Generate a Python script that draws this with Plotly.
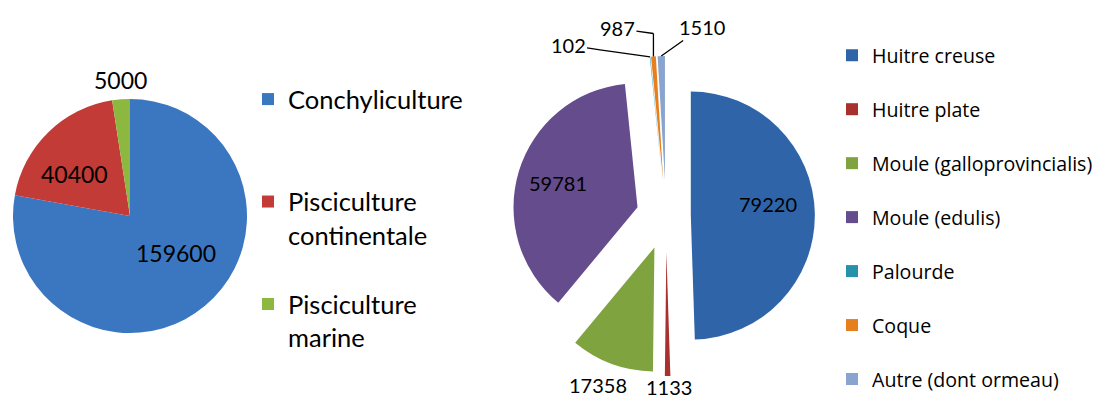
import math
import plotly.graph_objects as go

# ---- data ----
left_categories = ["Conchyliculture", "Pisciculture<br>continentale", "Pisciculture<br>marine"]
left_values = [159600, 40400, 5000]

right_categories = ["Huitre creuse", "Huitre plate", "Moule (galloprovincialis)",
                    "Moule (edulis)", "Palourde", "Coque", "Autre (dont ormeau)"]
right_values = [79220, 1133, 17358, 59781, 102, 987, 1510]

# ---- styles ----
FONT = "Lato"
LEGEND2_FONT = "Open Sans"
W, H = 1105, 393   # the page adds an 8px margin, so the figure fills the 1113x401 window
left_colors = ["#3B77C1", "#C23B37", "#8DB840"]
right_colors = ["#2F65A8", "#A8302D", "#7FA33E", "#654C8C", "#2790AB", "#E6801F", "#89A4CF"]
left_pull = [0, 0, 0]
right_pull = [0.20, 0.29, 0.27, 0.24, 0.29, 0.29, 0.29]

# pie boxes in pixels (left, top, size)
LEFT_BOX = (5, 91, 234)
RIGHT_BOX = (498, 48, 320)

# label placement relative to the outer tip of each slice:
# (dx, dy) text offset; optional elbow (ex, ey) of the leader line; leader line flag
left_label_offsets = {
    0: dict(d=(-29, -53)),
    1: dict(d=(26, 42)),
    2: dict(d=(-1, -19)),
}
right_label_offsets = {
    0: dict(d=(-47, -10)),
    1: dict(d=(1, 11)),
    2: dict(d=(-14, 21)),
    3: dict(d=(39, 12)),
    4: dict(d=(-32, -5), elbow=(-50, -7)),
    5: dict(d=(-36, -5), elbow=(0, -23)),
    6: dict(d=(41, -29), elbow=(0, 0)),
}


def dom(box):
    l, t, s = box
    return dict(x=[l / W, (l + s) / W], y=[1 - (t + s) / H, 1 - t / H])


# legend labels padded with blank lines to reproduce the tall spacing of the original
left_legend_labels = [c + "<br> " * (2 - c.count("<br>")) for c in left_categories[:-1]] + [left_categories[-1]]
right_legend_labels = [c + "<br> " for c in right_categories[:-1]] + [right_categories[-1]]

fig = go.Figure()


def add_pie(labels, values, colors, pull, box, legend):
    fig.add_trace(go.Pie(
        labels=labels,
        values=values,
        sort=False,
        direction="clockwise",
        rotation=0,
        pull=pull,
        marker=dict(colors=colors, line=dict(width=0)),
        textinfo="none",
        domain=dom(box),
        legend=legend,
        hoverinfo="label+value",
    ))


def add_labels(values, pull, box, offsets, size):
    # data labels anchored on the slices' outer tips (angles computed from the data)
    l, t, s = box
    cx, cy = l + s / 2, t + s / 2
    r = s / (2 + 2 * max(pull))
    total = sum(values)
    cum = 0
    for i, v in enumerate(values):
        mid = math.radians((cum + v / 2) / total * 360)
        cum += v
        if i not in offsets:
            continue
        d = r * (1 + pull[i])
        tx = cx + d * math.sin(mid)
        ty = cy - d * math.cos(mid)
        spec = offsets[i]
        dx, dy = spec["d"]
        ann = dict(
            xref="paper", yref="paper", xanchor="center", yanchor="middle",
            text=f"{v:.0f}", font=dict(family=FONT, size=size, color="black"),
        )
        if "elbow" in spec:
            ex, ey = tx + spec["elbow"][0], ty + spec["elbow"][1]
            ann.update(x=ex / W, y=1 - ey / H, showarrow=True, ax=dx, ay=dy,
                       arrowhead=0, arrowwidth=1.3, arrowcolor="black",
                       standoff=0, startstandoff=0)
            if (ex, ey) != (tx, ty):
                fig.add_shape(type="line", xref="paper", yref="paper",
                              x0=ex / W, y0=1 - ey / H, x1=tx / W, y1=1 - ty / H,
                              line=dict(color="black", width=1.3))
        else:
            ann.update(x=tx / W, y=1 - ty / H, showarrow=False, xshift=dx, yshift=-dy)
        fig.add_annotation(**ann)


add_pie(left_legend_labels, left_values, left_colors, left_pull, LEFT_BOX, "legend")
add_pie(right_legend_labels, right_values, right_colors, right_pull, RIGHT_BOX, "legend2")
add_labels(left_values, left_pull, LEFT_BOX, left_label_offsets, 23)
add_labels(right_values, right_pull, RIGHT_BOX, right_label_offsets, 20)

fig.update_layout(
    width=W, height=H,
    margin=dict(l=0, r=0, t=0, b=0, autoexpand=False),
    paper_bgcolor="white",
    plot_bgcolor="white",
    font=dict(family=FONT, color="black"),
    legend=dict(
        x=240 / W, xanchor="left", y=1 - 68 / H, yanchor="top",
        valign="top", font=dict(family=FONT, size=25.5, color="black"),
        bgcolor="rgba(0,0,0,0)", tracegroupgap=0,
    ),
    legend2=dict(
        x=824 / W, xanchor="left", y=1 - 28 / H, yanchor="top",
        valign="top", font=dict(family=LEGEND2_FONT, size=19.6, color="black"),
        bgcolor="rgba(0,0,0,0)", tracegroupgap=0,
    ),
)

fig.write_html("out.html")
